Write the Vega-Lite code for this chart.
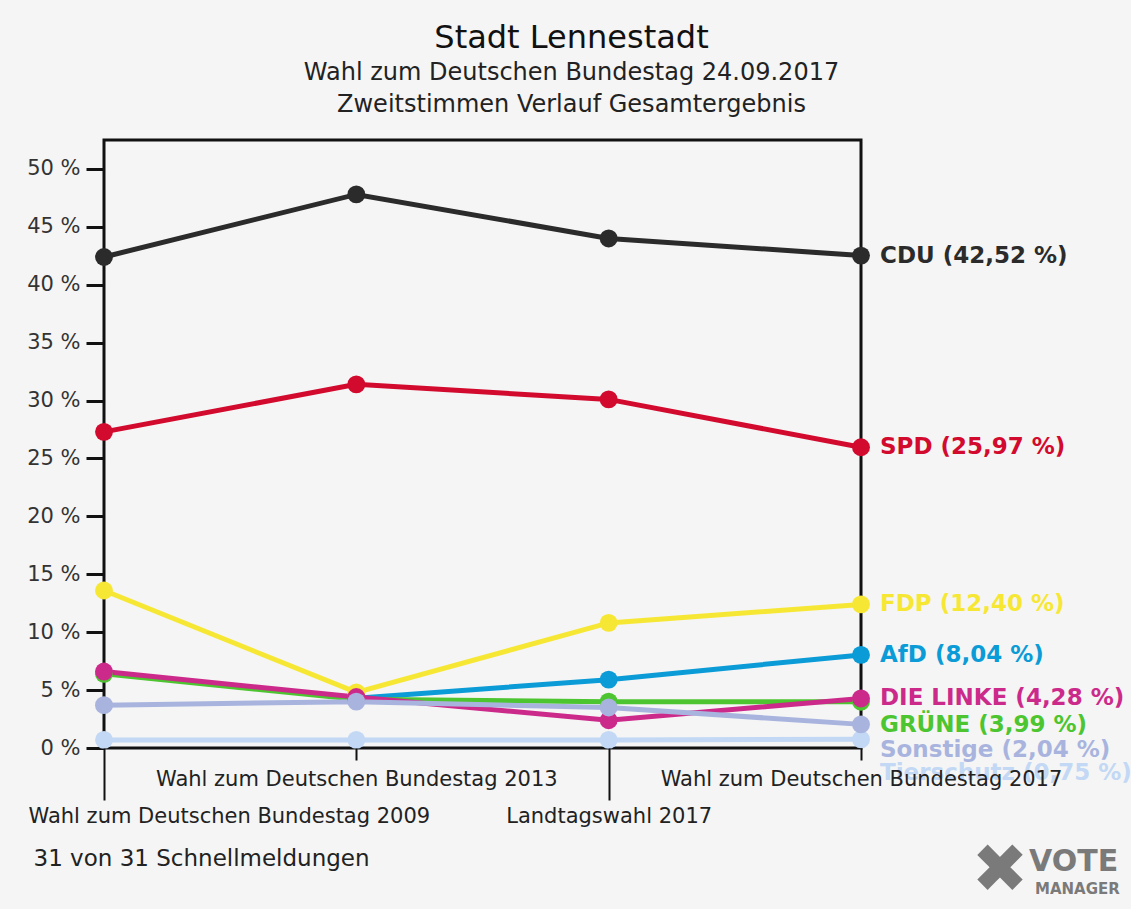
{
  "$schema": "https://vega.github.io/schema/vega-lite/v6.json",
  "width": 757,
  "height": 608,
  "autosize": {"type": "none"},
  "padding": {"left": 104, "top": 140, "right": 270, "bottom": 161},
  "background": "#f5f5f5",
  "config": {
    "view": {"stroke": "#111111", "strokeWidth": 3},
    "font": "DejaVu Sans"
  },
  "title": {
    "text": "Stadt Lennestadt",
    "subtitle": ["Wahl zum Deutschen Bundestag 24.09.2017", "Zweitstimmen Verlauf Gesamtergebnis"],
    "anchor": "middle",
    "frame": "group",
    "dx": 89,
    "offset": 22,
    "font": "DejaVu Sans",
    "fontSize": 32,
    "fontWeight": "normal",
    "color": "#111111",
    "subtitleFont": "DejaVu Sans",
    "subtitleFontSize": 24,
    "subtitleColor": "#222222",
    "subtitleLineHeight": 32,
    "subtitlePadding": 6
  },
  "datasets": {
    "votes": [
      {"party": "CDU", "wahl": "Wahl zum Deutschen Bundestag 2009", "value": 42.4},
      {"party": "CDU", "wahl": "Wahl zum Deutschen Bundestag 2013", "value": 47.8},
      {"party": "CDU", "wahl": "Landtagswahl 2017", "value": 44.0},
      {"party": "CDU", "wahl": "Wahl zum Deutschen Bundestag 2017", "value": 42.52},
      {"party": "SPD", "wahl": "Wahl zum Deutschen Bundestag 2009", "value": 27.3},
      {"party": "SPD", "wahl": "Wahl zum Deutschen Bundestag 2013", "value": 31.4},
      {"party": "SPD", "wahl": "Landtagswahl 2017", "value": 30.1},
      {"party": "SPD", "wahl": "Wahl zum Deutschen Bundestag 2017", "value": 25.97},
      {"party": "FDP", "wahl": "Wahl zum Deutschen Bundestag 2009", "value": 13.6},
      {"party": "FDP", "wahl": "Wahl zum Deutschen Bundestag 2013", "value": 4.8},
      {"party": "FDP", "wahl": "Landtagswahl 2017", "value": 10.8},
      {"party": "FDP", "wahl": "Wahl zum Deutschen Bundestag 2017", "value": 12.40},
      {"party": "AfD", "wahl": "Wahl zum Deutschen Bundestag 2013", "value": 4.3},
      {"party": "AfD", "wahl": "Landtagswahl 2017", "value": 5.9},
      {"party": "AfD", "wahl": "Wahl zum Deutschen Bundestag 2017", "value": 8.04},
      {"party": "GRÜNE", "wahl": "Wahl zum Deutschen Bundestag 2009", "value": 6.4},
      {"party": "GRÜNE", "wahl": "Wahl zum Deutschen Bundestag 2013", "value": 4.2},
      {"party": "GRÜNE", "wahl": "Landtagswahl 2017", "value": 4.0},
      {"party": "GRÜNE", "wahl": "Wahl zum Deutschen Bundestag 2017", "value": 3.99},
      {"party": "DIE LINKE", "wahl": "Wahl zum Deutschen Bundestag 2009", "value": 6.6},
      {"party": "DIE LINKE", "wahl": "Wahl zum Deutschen Bundestag 2013", "value": 4.4},
      {"party": "DIE LINKE", "wahl": "Landtagswahl 2017", "value": 2.4},
      {"party": "DIE LINKE", "wahl": "Wahl zum Deutschen Bundestag 2017", "value": 4.28},
      {"party": "Tierschutz", "wahl": "Wahl zum Deutschen Bundestag 2009", "value": 0.7},
      {"party": "Tierschutz", "wahl": "Wahl zum Deutschen Bundestag 2013", "value": 0.7},
      {"party": "Tierschutz", "wahl": "Landtagswahl 2017", "value": 0.7},
      {"party": "Tierschutz", "wahl": "Wahl zum Deutschen Bundestag 2017", "value": 0.75},
      {"party": "Sonstige", "wahl": "Wahl zum Deutschen Bundestag 2009", "value": 3.7},
      {"party": "Sonstige", "wahl": "Wahl zum Deutschen Bundestag 2013", "value": 4.0},
      {"party": "Sonstige", "wahl": "Landtagswahl 2017", "value": 3.5},
      {"party": "Sonstige", "wahl": "Wahl zum Deutschen Bundestag 2017", "value": 2.04}
    ],
    "labels": [
      {"party": "CDU", "wahl": "Wahl zum Deutschen Bundestag 2017", "value": 42.52, "label": "CDU (42,52 %)"},
      {"party": "SPD", "wahl": "Wahl zum Deutschen Bundestag 2017", "value": 25.97, "label": "SPD (25,97 %)"},
      {"party": "FDP", "wahl": "Wahl zum Deutschen Bundestag 2017", "value": 12.40, "label": "FDP (12,40 %)"},
      {"party": "AfD", "wahl": "Wahl zum Deutschen Bundestag 2017", "value": 8.04, "label": "AfD (8,04 %)"},
      {"party": "DIE LINKE", "wahl": "Wahl zum Deutschen Bundestag 2017", "value": 4.28, "label": "DIE LINKE (4,28 %)"},
      {"party": "GRÜNE", "wahl": "Wahl zum Deutschen Bundestag 2017", "value": 3.99, "label": "GRÜNE (3,99 %)"},
      {"party": "Sonstige", "wahl": "Wahl zum Deutschen Bundestag 2017", "value": 2.04, "label": "Sonstige (2,04 %)"},
      {"party": "Tierschutz", "wahl": "Wahl zum Deutschen Bundestag 2017", "value": 0.75, "label": "Tierschutz (0,75 %)"}
    ]
  },
  "layer": [
    {
      "data": {"name": "votes"},
      "mark": {"type": "line", "strokeWidth": 5, "point": {"size": 320, "filled": true, "opacity": 1}},
      "encoding": {
        "x": {
          "field": "wahl",
          "type": "ordinal",
          "scale": {"type": "point", "padding": 0, "domain": ["Wahl zum Deutschen Bundestag 2009", "Wahl zum Deutschen Bundestag 2013", "Landtagswahl 2017", "Wahl zum Deutschen Bundestag 2017"]},
          "axis": {
            "title": "31 von 31 Schnellmeldungen",
            "titleX": -71,
            "titleY": 110,
            "titleAlign": "left",
            "titleAnchor": "start",
            "titleBaseline": "middle",
            "titleFont": "DejaVu Sans",
            "titleFontSize": 23,
            "titleFontWeight": "normal",
            "titleColor": "#222222",
            "domain": false,
            "grid": false,
            "zindex": 1,
            "labelAngle": 0,
            "labelOverlap": false,
            "labelBound": false,
            "labelFlush": false,
            "labelLimit": 600,
            "labelFontSize": 21,
            "labelColor": "#222222",
            "labelBaseline": "top",
            "tickColor": "#111111",
            "tickWidth": 2,
            "tickSize": {"condition": {"test": "datum.value === 'Wahl zum Deutschen Bundestag 2009' || datum.value === 'Landtagswahl 2017'", "value": 52}, "value": 12},
            "labelPadding": {"condition": {"test": "datum.value === 'Wahl zum Deutschen Bundestag 2009' || datum.value === 'Landtagswahl 2017'", "value": 5}, "value": 8},
            "labelAlign": {"condition": {"test": "datum.value === 'Wahl zum Deutschen Bundestag 2009'", "value": "left"}, "value": "center"},
            "labelOffset": {"condition": {"test": "datum.value === 'Wahl zum Deutschen Bundestag 2009'", "value": -76}, "value": 0}
          }
        },
        "y": {
          "field": "value",
          "type": "quantitative",
          "scale": {"domain": [0, 52.5], "nice": false, "zero": true},
          "axis": {
            "title": null,
            "values": [0, 5, 10, 15, 20, 25, 30, 35, 40, 45, 50],
            "labelExpr": "datum.value + ' %'",
            "domain": false,
            "grid": false,
            "tickSize": 18,
            "tickWidth": 3,
            "tickColor": "#111111",
            "labelPadding": 6,
            "labelFontSize": 21,
            "labelColor": "#333333"
          }
        },
        "color": {
          "field": "party",
          "type": "nominal",
          "scale": {
            "domain": ["CDU", "SPD", "FDP", "AfD", "GRÜNE", "DIE LINKE", "Tierschutz", "Sonstige"],
            "range": ["#2b2b2b", "#d20a2e", "#f7e735", "#0b9bd7", "#4cc530", "#cc2a8a", "#c2d8f4", "#a8b4de"]
          },
          "legend": null
        }
      }
    },
    {
      "data": {"name": "labels"},
      "transform": [{"filter": {"field": "party", "oneOf": ["CDU", "SPD", "FDP", "AfD", "DIE LINKE"]}}],
      "mark": {"type": "text", "align": "left", "baseline": "middle", "dx": 19, "fontSize": 23, "fontWeight": "bold", "font": "DejaVu Sans"},
      "encoding": {
        "x": {"field": "wahl", "type": "ordinal"},
        "y": {"field": "value", "type": "quantitative"},
        "text": {"field": "label"},
        "color": {"field": "party", "type": "nominal", "legend": null}
      }
    },
    {
      "data": {"name": "labels"},
      "transform": [{"filter": {"field": "party", "equal": "GRÜNE"}}],
      "mark": {"type": "text", "align": "left", "baseline": "middle", "dx": 19, "dy": 23, "fontSize": 23, "fontWeight": "bold", "font": "DejaVu Sans"},
      "encoding": {
        "x": {"field": "wahl", "type": "ordinal"},
        "y": {"field": "value", "type": "quantitative"},
        "text": {"field": "label"},
        "color": {"field": "party", "type": "nominal", "legend": null}
      }
    },
    {
      "data": {"name": "labels"},
      "transform": [{"filter": {"field": "party", "equal": "Sonstige"}}],
      "mark": {"type": "text", "align": "left", "baseline": "middle", "dx": 19, "dy": 26, "fontSize": 23, "fontWeight": "bold", "font": "DejaVu Sans"},
      "encoding": {
        "x": {"field": "wahl", "type": "ordinal"},
        "y": {"field": "value", "type": "quantitative"},
        "text": {"field": "label"},
        "color": {"field": "party", "type": "nominal", "legend": null}
      }
    },
    {
      "data": {"name": "labels"},
      "transform": [{"filter": {"field": "party", "equal": "Tierschutz"}}],
      "mark": {"type": "text", "align": "left", "baseline": "middle", "dx": 19, "dy": 34, "fontSize": 23, "fontWeight": "bold", "font": "DejaVu Sans"},
      "encoding": {
        "x": {"field": "wahl", "type": "ordinal"},
        "y": {"field": "value", "type": "quantitative"},
        "text": {"field": "label"},
        "color": {"field": "party", "type": "nominal", "legend": null}
      }
    },
    {
      "data": {"values": [{"t": "✖"}]},
      "mark": {"type": "text", "align": "center", "baseline": "middle", "dx": 139, "dy": 124, "fontSize": 68, "font": "DejaVu Sans", "color": "#7a7a7a"},
      "encoding": {
        "x": {"datum": "Wahl zum Deutschen Bundestag 2017", "type": "ordinal"},
        "y": {"datum": 0, "type": "quantitative"},
        "text": {"field": "t"}
      }
    },
    {
      "data": {"values": [{"t": "VOTE"}]},
      "mark": {"type": "text", "align": "left", "baseline": "middle", "dx": 168, "dy": 114, "fontSize": 30, "fontWeight": "bold", "font": "DejaVu Sans", "color": "#7a7a7a"},
      "encoding": {
        "x": {"datum": "Wahl zum Deutschen Bundestag 2017", "type": "ordinal"},
        "y": {"datum": 0, "type": "quantitative"},
        "text": {"field": "t"}
      }
    },
    {
      "data": {"values": [{"t": "MANAGER"}]},
      "mark": {"type": "text", "align": "left", "baseline": "middle", "dx": 174, "dy": 141, "fontSize": 15, "fontWeight": "bold", "font": "DejaVu Sans", "color": "#7a7a7a"},
      "encoding": {
        "x": {"datum": "Wahl zum Deutschen Bundestag 2017", "type": "ordinal"},
        "y": {"datum": 0, "type": "quantitative"},
        "text": {"field": "t"}
      }
    }
  ]
}
